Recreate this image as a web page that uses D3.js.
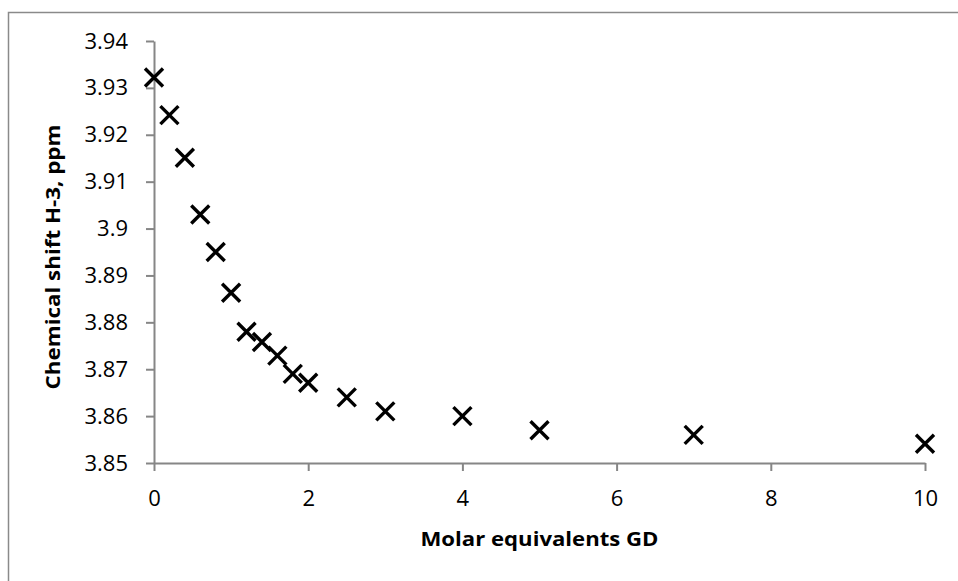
<!DOCTYPE html>
<html>
<head>
<meta charset="utf-8">
<script src="https://cdn.jsdelivr.net/npm/d3@7"></script>
<style>
  html, body { margin: 0; padding: 0; background: #fff; }
  svg { display: block; }
</style>
</head>
<body>
<svg id="chart" width="958" height="581"></svg>
<script>
// Titration data: chemical shift of H-3 vs. molar equivalents of GD
const equivalents = [0, 0.2, 0.4, 0.6, 0.8, 1.0, 1.2, 1.4, 1.6, 1.8, 2.0, 2.5, 3, 4, 5, 7, 10];
const shiftPpm = [3.9322, 3.9242, 3.9151, 3.9030, 3.8950, 3.8863, 3.8780, 3.8758, 3.8729, 3.8690, 3.8671, 3.8640, 3.8610, 3.8600, 3.8570, 3.8560, 3.8541];
const xTicks = [0, 2, 4, 6, 8, 10];
const yTicks = [3.85, 3.86, 3.87, 3.88, 3.89, 3.90, 3.91, 3.92, 3.93, 3.94];
const xTitle = "Molar equivalents GD";
const yTitle = "Chemical shift H-3, ppm";

const svg = d3.select("#chart");
const font = "'Open Sans', 'DejaVu Sans', sans-serif";
const axisColor = "#868686";

// outer frame
svg.append("rect")
  .attr("x", 8.5).attr("y", 12.5)
  .attr("width", 1000).attr("height", 1000)
  .attr("fill", "none")
  .attr("stroke", "#8a8a8a")
  .attr("stroke-width", 1.5);

const plot = { left: 154, right: 925, top: 41, bottom: 463 };

const x = d3.scaleLinear().domain([0, 10]).range([plot.left, plot.right]);
const y = d3.scaleLinear().domain([3.85, 3.94]).range([plot.bottom, plot.top]);

// x axis
const gx = svg.append("g")
  .attr("transform", `translate(0,${plot.bottom})`)
  .call(d3.axisBottom(x).tickValues(xTicks).tickSize(8).tickSizeOuter(0).tickPadding(19).tickFormat(d3.format("d")));

// y axis
const gy = svg.append("g")
  .attr("transform", `translate(${plot.left},0)`)
  .call(d3.axisLeft(y).tickValues(yTicks).tickSize(8).tickSizeOuter(0).tickPadding(18)
    .tickFormat(d => d3.format(".2f")(d).replace(/0$/, "")));

[gx, gy].forEach(g => {
  g.select(".domain").attr("stroke", axisColor).attr("stroke-width", 2);
  g.selectAll(".tick line").attr("stroke", axisColor).attr("stroke-width", 2);
  g.selectAll(".tick text")
    .attr("fill", "#000")
    .style("font-family", font)
    .style("font-size", "22px");
});

// markers: X-shaped crosses
const arm = 9;
svg.append("g")
  .selectAll("path")
  .data(equivalents.map((e, i) => [e, shiftPpm[i]]))
  .join("path")
  .attr("d", d => {
    const cx = x(d[0]), cy = y(d[1]);
    return `M${cx - arm},${cy - arm}L${cx + arm},${cy + arm}M${cx - arm},${cy + arm}L${cx + arm},${cy - arm}`;
  })
  .attr("stroke", "#000")
  .attr("stroke-width", 3.4)
  .attr("fill", "none");

// axis titles
svg.append("text")
  .attr("x", (plot.left + plot.right) / 2)
  .attr("y", 546)
  .attr("text-anchor", "middle")
  .style("font-family", font)
  .style("font-weight", "bold")
  .style("font-size", "19px")
  .attr("textLength", 238)
  .attr("lengthAdjust", "spacingAndGlyphs")
  .text(xTitle);

svg.append("text")
  .attr("transform", `translate(60,${(plot.top + plot.bottom) / 2 + 5}) rotate(-90)`)
  .attr("text-anchor", "middle")
  .style("font-family", font)
  .style("font-weight", "bold")
  .style("font-size", "19px")
  .attr("textLength", 265)
  .attr("lengthAdjust", "spacingAndGlyphs")
  .text(yTitle);
</script>
</body>
</html>
